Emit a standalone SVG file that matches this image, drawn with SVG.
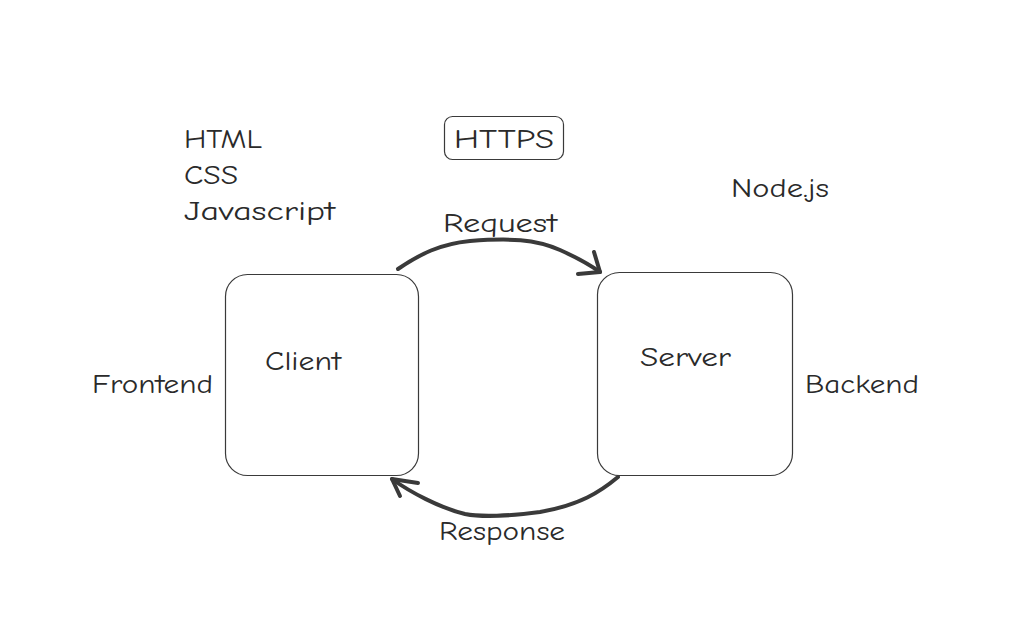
<svg xmlns="http://www.w3.org/2000/svg" width="1016" height="621" viewBox="0 0 1016 621">
<style>
.t{font-family:"Comic Neue","Liberation Sans",sans-serif;font-size:27px;fill:#2a2a2a}
.box{fill:none;stroke:#3a3a3a;stroke-width:1.2}
.arr{fill:none;stroke:#3a3a3a;stroke-width:4;stroke-linecap:round;stroke-linejoin:round}
</style>
<rect width="1016" height="621" fill="#ffffff"/>
<g id="tech-frontend">
<text class="t" x="184" y="148" textLength="78" lengthAdjust="spacingAndGlyphs">HTML</text>
<text class="t" x="184" y="184" textLength="54" lengthAdjust="spacingAndGlyphs">CSS</text>
<text class="t" x="184" y="220" textLength="151" lengthAdjust="spacingAndGlyphs">Javascript</text>
</g>
<g id="https">
<rect class="box" x="444.5" y="116.5" width="119" height="43" rx="8"/>
<text class="t" x="454" y="148" textLength="100" lengthAdjust="spacingAndGlyphs">HTTPS</text>
</g>
<g id="nodejs">
<text class="t" x="731" y="197" textLength="98" lengthAdjust="spacingAndGlyphs">Node.js</text>
</g>
<g id="client">
<rect class="box" x="225.5" y="274.5" width="193" height="201" rx="22"/>
<text class="t" x="265" y="370" textLength="76" lengthAdjust="spacingAndGlyphs">Client</text>
</g>
<g id="server">
<rect class="box" x="597.5" y="272.5" width="195" height="203" rx="22"/>
<text class="t" x="640" y="366" textLength="91" lengthAdjust="spacingAndGlyphs">Server</text>
</g>
<g id="frontend">
<text class="t" x="92" y="393" textLength="121" lengthAdjust="spacingAndGlyphs">Frontend</text>
</g>
<g id="backend">
<text class="t" x="805" y="393" textLength="114" lengthAdjust="spacingAndGlyphs">Backend</text>
</g>
<g id="connectors">
<path class="arr" d="M398 269 C420 254 440 244 470 241 C510 238 535 239 560 250 C578 258 590 265 600 272"/>
<path class="arr" d="M594 252 L600 272 L578 274"/>
<text class="t" x="443" y="232" textLength="114" lengthAdjust="spacingAndGlyphs">Request</text>
<path class="arr" d="M618 477 C600 492 580 505 540 512 C510 516 480 517 465 514 C440 508 410 492 392 479"/>
<path class="arr" d="M418 483 L392 479 L400 496"/>
<text class="t" x="439" y="540" textLength="126" lengthAdjust="spacingAndGlyphs">Response</text>
</g>
</svg>
